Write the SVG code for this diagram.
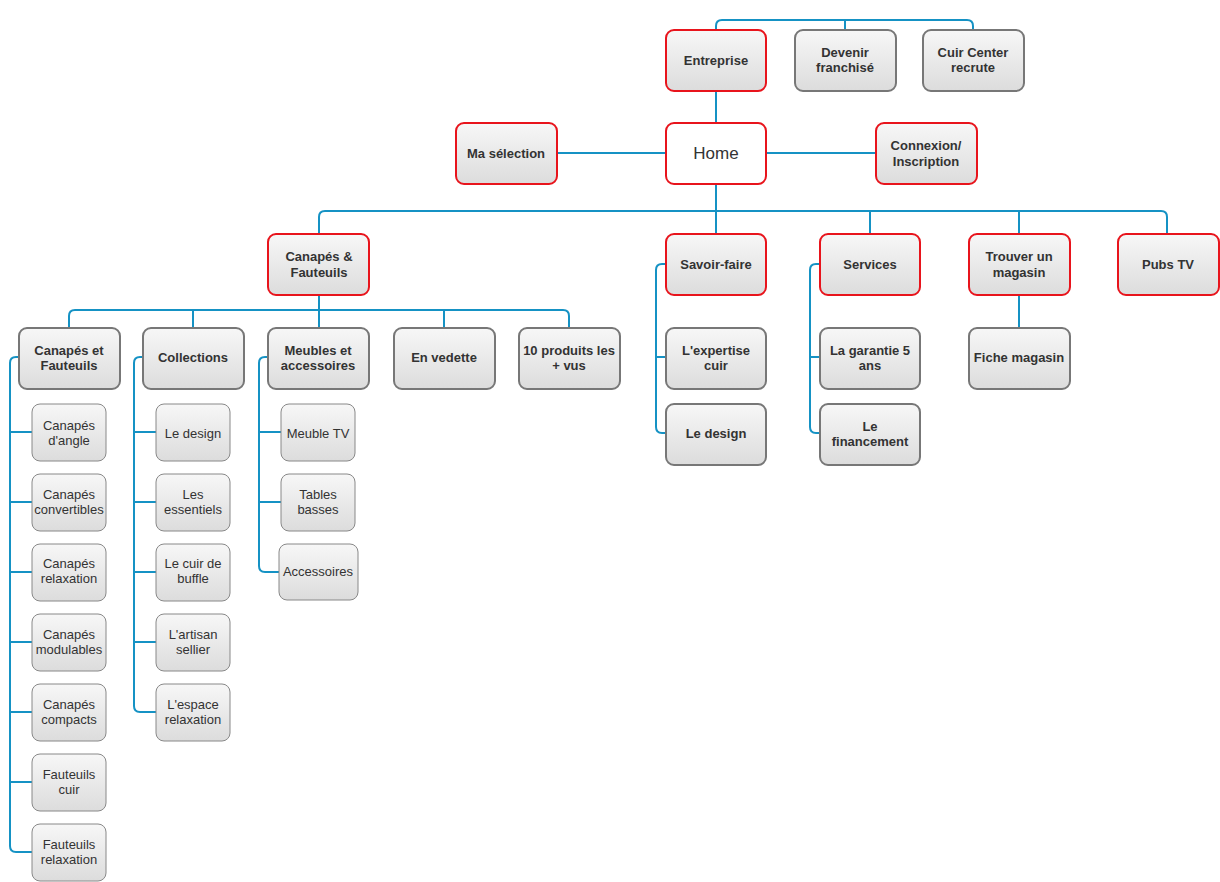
<svg xmlns="http://www.w3.org/2000/svg" width="1220" height="882" viewBox="0 0 1220 882">
<defs>
<linearGradient id="g" x1="0" y1="0" x2="0" y2="1"><stop offset="0" stop-color="#f7f7f7"/><stop offset="1" stop-color="#dcdcdc"/></linearGradient>
<style>
text{font-family:"Liberation Sans",Arial,sans-serif;fill:#333;text-anchor:middle}
.r rect{fill:url(#g);stroke:#e8141c;stroke-width:2}
.k rect{fill:url(#g);stroke:#777;stroke-width:2}
.s rect{fill:url(#g);stroke:#888;stroke-width:1}
.r text,.k text{font-size:13px;font-weight:bold}
.s text{font-size:13px}
#conn path{fill:none;stroke:#1592c4;stroke-width:2}
</style>
</defs>
<rect width="1220" height="882" fill="#fff"/>
<g id="conn">
<path d="M716 30V26Q716 20 722 20H967Q973 20 973 26V30M845 20V30"/>
<path d="M716 91V123M557 153H666M766 153H876"/>
<path d="M716 184V211M319 234V217Q319 211 325 211H1161Q1167 211 1167 217V234M716 211V234M870 211V234M1019 211V234"/>
<path d="M319 295V310M69 328V316Q69 310 75 310H563Q569 310 569 316V328M193 310V328M319 310V328M444 310V328"/>
<path d="M19 357H16Q10 357 10 363V846Q10 852 16 852H32M10 432H32M10 502H32M10 572H32M10 642H32M10 712H32M10 782H32"/>
<path d="M143 357H140Q134 357 134 363V706Q134 712 140 712H156M134 432H156M134 502H156M134 572H156M134 642H156"/>
<path d="M268 357H265Q259 357 259 363V566Q259 572 265 572H279M259 432H281M259 502H281"/>
<path d="M666 264H662Q656 264 656 270V427Q656 433 662 433H666M656 357H666"/>
<path d="M820 264H816Q810 264 810 270V427Q810 433 816 433H820M810 357H820"/>
<path d="M1019 295V328"/>
</g>
<g id="entreprise" class="r"><rect x="666" y="30" width="100" height="61" rx="8"/><text x="716" y="65">Entreprise</text></g>
<g id="franchise" class="k"><rect x="795" y="30" width="101" height="61" rx="8"/><text x="845" y="57">Devenir</text><text x="845" y="72">franchisé</text></g>
<g id="recrute" class="k"><rect x="923" y="30" width="101" height="61" rx="8"/><text x="973" y="57">Cuir Center</text><text x="973" y="72">recrute</text></g>
<g id="home"><rect x="666" y="123" width="100" height="61" rx="8" fill="#fff" stroke="#e8141c" stroke-width="2"/><text x="716" y="159" style="font-size:17px">Home</text></g>
<g id="selection" class="r"><rect x="456" y="123" width="101" height="61" rx="8"/><text x="506" y="158">Ma sélection</text></g>
<g id="connexion" class="r"><rect x="876" y="123" width="101" height="61" rx="8"/><text x="926" y="150">Connexion/</text><text x="926" y="166">Inscription</text></g>
<g id="canapes" class="r"><rect x="268" y="234" width="101" height="61" rx="8"/><text x="319" y="261">Canapés &amp;</text><text x="319" y="277">Fauteuils</text></g>
<g id="savoir" class="r"><rect x="666" y="234" width="100" height="61" rx="8"/><text x="716" y="269">Savoir-faire</text></g>
<g id="services" class="r"><rect x="820" y="234" width="100" height="61" rx="8"/><text x="870" y="269">Services</text></g>
<g id="trouver" class="r"><rect x="969" y="234" width="101" height="61" rx="8"/><text x="1019" y="261">Trouver un</text><text x="1019" y="277">magasin</text></g>
<g id="pubs" class="r"><rect x="1118" y="234" width="101" height="61" rx="8"/><text x="1168" y="269">Pubs TV</text></g>
<g id="cf" class="k"><rect x="19" y="328" width="101" height="61" rx="8"/><text x="69" y="355">Canapés et</text><text x="69" y="370">Fauteuils</text></g>
<g id="collections" class="k"><rect x="143" y="328" width="101" height="61" rx="8"/><text x="193" y="362">Collections</text></g>
<g id="meubles" class="k"><rect x="268" y="328" width="101" height="61" rx="8"/><text x="318" y="355">Meubles et</text><text x="318" y="370">accessoires</text></g>
<g id="vedette" class="k"><rect x="394" y="328" width="101" height="61" rx="8"/><text x="444" y="362">En vedette</text></g>
<g id="top10" class="k"><rect x="519" y="328" width="101" height="61" rx="8"/><text x="569" y="355">10 produits les</text><text x="569" y="370">+ vus</text></g>
<g id="expertise" class="k"><rect x="666" y="328" width="100" height="61" rx="8"/><text x="716" y="355">L'expertise</text><text x="716" y="370">cuir</text></g>
<g id="design2" class="k"><rect x="666" y="404" width="100" height="61" rx="8"/><text x="716" y="438">Le design</text></g>
<g id="garantie" class="k"><rect x="820" y="328" width="100" height="61" rx="8"/><text x="870" y="355">La garantie 5</text><text x="870" y="370">ans</text></g>
<g id="financement" class="k"><rect x="820" y="404" width="100" height="61" rx="8"/><text x="870" y="431">Le</text><text x="870" y="446">financement</text></g>
<g id="fiche" class="k"><rect x="969" y="328" width="101" height="61" rx="8"/><text x="1019" y="362">Fiche magasin</text></g>
<g id="c1" class="s"><rect x="32" y="404" width="74" height="57" rx="8"/><text x="69" y="430">Canapés</text><text x="69" y="445">d'angle</text></g>
<g id="c2" class="s"><rect x="32" y="474" width="74" height="57" rx="8"/><text x="69" y="499">Canapés</text><text x="69" y="514">convertibles</text></g>
<g id="c3" class="s"><rect x="32" y="544" width="74" height="57" rx="8"/><text x="69" y="568">Canapés</text><text x="69" y="583">relaxation</text></g>
<g id="c4" class="s"><rect x="32" y="614" width="74" height="57" rx="8"/><text x="69" y="639">Canapés</text><text x="69" y="654">modulables</text></g>
<g id="c5" class="s"><rect x="32" y="684" width="74" height="57" rx="8"/><text x="69" y="709">Canapés</text><text x="69" y="724">compacts</text></g>
<g id="c6" class="s"><rect x="32" y="754" width="74" height="57" rx="8"/><text x="69" y="779">Fauteuils</text><text x="69" y="794">cuir</text></g>
<g id="c7" class="s"><rect x="32" y="824" width="74" height="57" rx="8"/><text x="69" y="849">Fauteuils</text><text x="69" y="864">relaxation</text></g>
<g id="k1" class="s"><rect x="156" y="404" width="74" height="57" rx="8"/><text x="193" y="438">Le design</text></g>
<g id="k2" class="s"><rect x="156" y="474" width="74" height="57" rx="8"/><text x="193" y="499">Les</text><text x="193" y="514">essentiels</text></g>
<g id="k3" class="s"><rect x="156" y="544" width="74" height="57" rx="8"/><text x="193" y="568">Le cuir de</text><text x="193" y="583">buffle</text></g>
<g id="k4" class="s"><rect x="156" y="614" width="74" height="57" rx="8"/><text x="193" y="639">L'artisan</text><text x="193" y="654">sellier</text></g>
<g id="k5" class="s"><rect x="156" y="684" width="74" height="57" rx="8"/><text x="193" y="709">L'espace</text><text x="193" y="724">relaxation</text></g>
<g id="m1" class="s"><rect x="281" y="404" width="74" height="57" rx="8"/><text x="318" y="438">Meuble TV</text></g>
<g id="m2" class="s"><rect x="281" y="474" width="74" height="57" rx="8"/><text x="318" y="499">Tables</text><text x="318" y="514">basses</text></g>
<g id="m3" class="s"><rect x="279" y="544" width="79" height="56" rx="8"/><text x="318" y="576">Accessoires</text></g>
</svg>
